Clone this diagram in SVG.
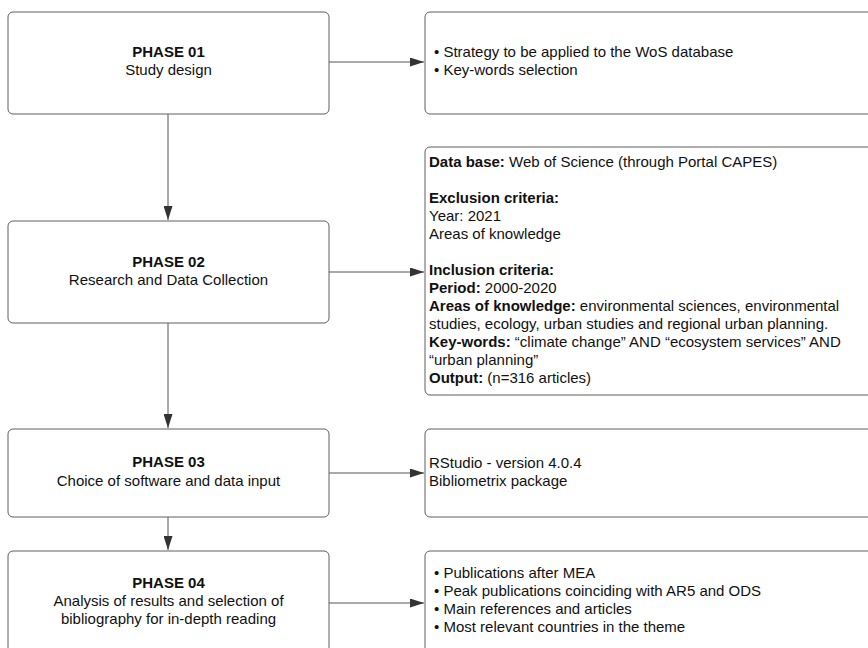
<svg xmlns="http://www.w3.org/2000/svg" width="868" height="648" viewBox="0 0 868 648">
  <defs>
    <marker id="arrow" viewBox="0 0 14 9" refX="14" refY="4.5" markerWidth="14" markerHeight="9" markerUnits="userSpaceOnUse" orient="auto">
      <path d="M0,0 L14,4.5 L0,9 Z" fill="#333"/>
    </marker>
  </defs>
  <style>
    .box { fill: #fff; stroke: #5e5e5e; stroke-width: 1; }
    .t { font-family: "Liberation Sans", Arial, sans-serif; font-size: 15px; fill: #111; }
    .c { text-anchor: middle; }
    .b { font-weight: bold; }
    .link { stroke: #555; stroke-width: 1; fill: none; marker-end: url(#arrow); }
  </style>
  <rect width="868" height="648" fill="#fff"/>

  <g id="connectors">
    <line class="link" x1="329" y1="62" x2="424" y2="62"/>
    <line class="link" x1="329" y1="272" x2="424" y2="272"/>
    <line class="link" x1="329" y1="473" x2="424" y2="473"/>
    <line class="link" x1="329" y1="603" x2="424" y2="603"/>
    <line class="link" x1="168" y1="114" x2="168" y2="220"/>
    <line class="link" x1="168" y1="323" x2="168" y2="428"/>
    <line class="link" x1="168" y1="517" x2="168" y2="550"/>
  </g>

  <g id="phase01">
    <rect class="box" x="8" y="12" width="321" height="102" rx="5"/>
    <text class="t c b" x="168.5" y="57">PHASE 01</text>
    <text class="t c" x="168.5" y="75">Study design</text>
  </g>
  <g id="phase01-details">
    <rect class="box" x="425" y="12" width="460" height="102" rx="5"/>
    <text class="t" x="434" y="57">• Strategy to be applied to the WoS database</text>
    <text class="t" x="434" y="75">• Key-words selection</text>
  </g>

  <g id="phase02">
    <rect class="box" x="8" y="221" width="321" height="102" rx="5"/>
    <text class="t c b" x="168.5" y="267">PHASE 02</text>
    <text class="t c" x="168.5" y="285">Research and Data Collection</text>
  </g>
  <g id="phase02-details">
    <rect class="box" x="425" y="147" width="460" height="248" rx="5"/>
    <text class="t" x="429" y="167"><tspan class="b">Data base:</tspan> Web of Science (through Portal CAPES)</text>
    <text class="t b" x="429" y="203">Exclusion criteria:</text>
    <text class="t" x="429" y="221">Year: 2021</text>
    <text class="t" x="429" y="239">Areas of knowledge</text>
    <text class="t b" x="429" y="275">Inclusion criteria:</text>
    <text class="t" x="429" y="293"><tspan class="b">Period:</tspan> 2000-2020</text>
    <text class="t" x="429" y="311"><tspan class="b">Areas of knowledge:</tspan> environmental sciences, environmental</text>
    <text class="t" x="429" y="329">studies, ecology, urban studies and regional urban planning.</text>
    <text class="t" x="429" y="347"><tspan class="b">Key-words:</tspan> “climate change” AND “ecosystem services” AND</text>
    <text class="t" x="429" y="365">“urban planning”</text>
    <text class="t" x="429" y="383"><tspan class="b">Output:</tspan> (n=316 articles)</text>
  </g>

  <g id="phase03">
    <rect class="box" x="8" y="429" width="321" height="88" rx="5"/>
    <text class="t c b" x="168.5" y="467">PHASE 03</text>
    <text class="t c" x="168.5" y="486">Choice of software and data input</text>
  </g>
  <g id="phase03-details">
    <rect class="box" x="425" y="429" width="460" height="88" rx="5"/>
    <text class="t" x="429" y="468">RStudio - version 4.0.4</text>
    <text class="t" x="429" y="486">Bibliometrix package</text>
  </g>

  <g id="phase04">
    <rect class="box" x="8" y="551" width="321" height="110" rx="5"/>
    <text class="t c b" x="168.5" y="588">PHASE 04</text>
    <text class="t c" x="168.5" y="606">Analysis of results and selection of</text>
    <text class="t c" x="168.5" y="624">bibliography for in-depth reading</text>
  </g>
  <g id="phase04-details">
    <rect class="box" x="425" y="551" width="460" height="110" rx="5"/>
    <text class="t" x="434" y="578">• Publications after MEA</text>
    <text class="t" x="434" y="596">• Peak publications coinciding with AR5 and ODS</text>
    <text class="t" x="434" y="614">• Main references and articles</text>
    <text class="t" x="434" y="632">• Most relevant countries in the theme</text>
  </g>
</svg>
